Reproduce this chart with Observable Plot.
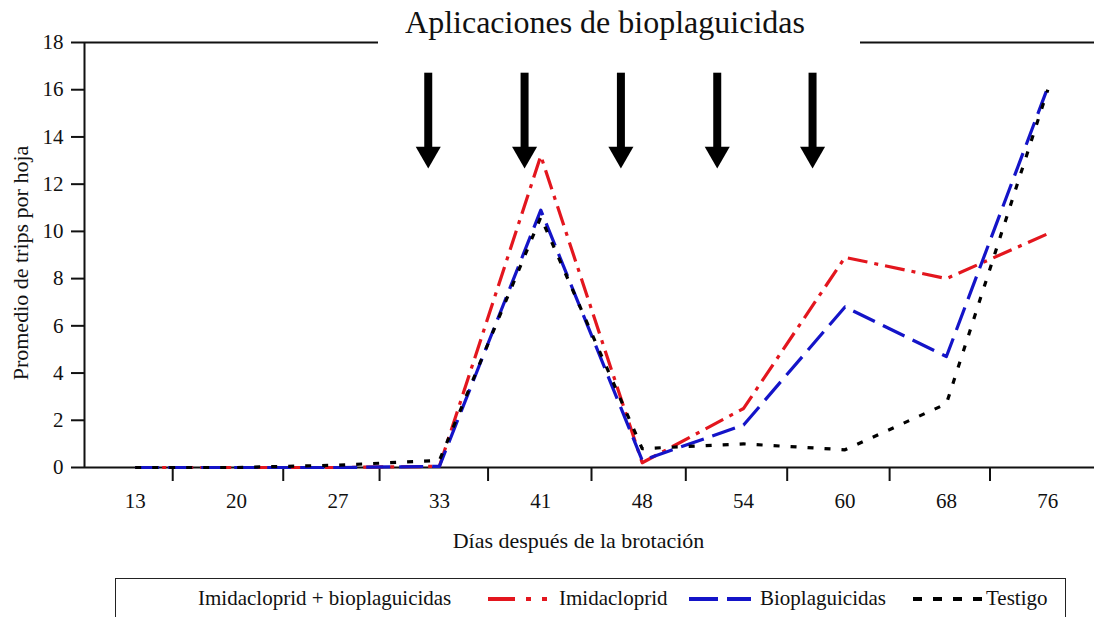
<!DOCTYPE html>
<html><head><meta charset="utf-8">
<script src="https://cdn.jsdelivr.net/npm/d3@7"></script>
<script src="https://cdn.jsdelivr.net/npm/@observablehq/plot@0.6"></script>
<style>
body{margin:0;background:#fff;font-family:'Liberation Serif','Times New Roman',serif;color:#111;}
#wrap{position:relative;width:1094px;height:617px;overflow:hidden;background:#fff;}
#chart{position:absolute;left:0;top:0;}
#title{position:absolute;left:378px;top:0;width:482px;height:50px;background:#fff;text-align:center;font-size:32px;line-height:32px;padding:6px 28px 0 0;box-sizing:border-box;}
#legendBox{position:absolute;left:115px;top:578px;width:951px;height:60px;border:1.5px solid #222;box-sizing:border-box;}
.lg{position:absolute;top:588px;font-size:21px;line-height:21px;white-space:nowrap;}
.sw{position:absolute;top:594px;height:10px;}
</style>
</head><body>
<div id="wrap">
  <div id="chart"></div>
  <div id="title">Aplicaciones de bioplaguicidas</div>
  <div id="legendBox"></div>
  <div id="legend"></div>
</div>
<script>
// ---- data ----
const days = ["13","20","27","33","41","48","54","60","68","76"];
const imidaBio = [0, 0, 0, 0.05, 13.2, 0.2, 2.5, 8.9, 8.0, 9.9];
const bioplag  = [0, 0, 0, 0.05, 10.9, 0.3, 1.8, 6.8, 4.7, 16.1];
const testigo  = [0, 0, 0.1, 0.3, 10.6, 0.8, 1.0, 0.75, 2.7, 16.0];
const yTicks = [0, 2, 4, 6, 8, 10, 12, 14, 16, 18];
const xTickPos = [0.37, 1.46, 2.41, 3.48, 4.5, 5.43, 6.43, 7.44, 8.43];
// application arrows (x in category index units, y in chart units)
const arrowX = [2.89, 3.84, 4.79, 5.74, 6.68];
const arrowTop = 16.7, arrowBase = 13.5, arrowHead = 13.28;

const legendLabels = ["Imidacloprid + bioplaguicidas", "Imidacloprid", "Bioplaguicidas", "Testigo"];

const series = [
  {name: "Imidacloprid + bioplaguicidas", values: imidaBio, color: "#e3161e", dash: "20,7,4,7"},
  {name: "Bioplaguicidas", values: bioplag, color: "#1414c8", dash: "24,9"},
  {name: "Testigo", values: testigo, color: "#000", dash: "6,11"}
];
const rows = s => s.values.map((v, i) => ({i, v}));
const arrows = arrowX.map(x => ({x, top: arrowTop, base: arrowBase, head: arrowHead}));

const serif = "'Liberation Serif','Times New Roman',serif";
const chart = Plot.plot({
  width: 1094, height: 560,
  marginTop: 42, marginBottom: 93, marginLeft: 84, marginRight: 0,
  x: {domain: [-0.5, 9.5], range: [84, 1098]},
  y: {domain: [0, 18], range: [467, 42]},
  style: {fontFamily: serif, fontSize: "21px", color: "#111", background: "transparent"},
  marks: [
    Plot.axisY({ticks: yTicks, tickSize: 13, tickPadding: 8, strokeWidth: 2, label: null}),
    Plot.axisX({ticks: xTickPos, tickSize: 14, tickFormat: () => "", strokeWidth: 2, label: null}),
    Plot.axisX({ticks: d3.range(days.length), tickSize: 0, tickPadding: 26, tickFormat: i => days[i], label: null}),
    Plot.ruleY([18], {stroke: "#111", strokeWidth: 2}),
    Plot.ruleY([0], {stroke: "#111", strokeWidth: 2}),
    Plot.ruleX([-0.5], {stroke: "#111", strokeWidth: 2}),
    Plot.text(["Promedio de trips por hoja"], {frameAnchor: "left", textAnchor: "middle", lineAnchor: "middle", dx: -64, dy: 8, rotate: -90, fontSize: 22, fill: "#111"}),
    Plot.text(["Días después de la brotación"], {frameAnchor: "bottom", textAnchor: "middle", lineAnchor: "middle", dx: -11, dy: 73, fontSize: 22, fill: "#111"}),
    Plot.ruleX(arrows, {x: "x", y1: "base", y2: "top", stroke: "#000", strokeWidth: 8}),
    Plot.dot(arrows, {x: "x", y: "head", symbol: "triangle", r: 9.3, fill: "#000", rotate: 180}),
    ...series.map(s => Plot.line(rows(s), {x: "i", y: "v", stroke: s.color, strokeWidth: 3.2, strokeDasharray: s.dash, strokeLinecap: "butt"}))
  ]
});
document.getElementById("chart").appendChild(chart);

// ---- legend ----
const lg = document.getElementById("legend");
const textLeft = [198, 559, 760, 986];
legendLabels.forEach((t, k) => {
  const s = document.createElement("span");
  s.className = "lg"; s.style.left = textLeft[k] + "px"; s.textContent = t;
  lg.appendChild(s);
});
const swatches = [
  {left: 488, w: 64, color: "#e3161e", dash: "27,11,5,11,5,20"},
  {left: 689, w: 62, color: "#1414c8", dash: "29,9"},
  {left: 913, w: 70, color: "#000", dash: "9,11"}
];
swatches.forEach(sw => {
  const svg = d3.create("svg").attr("class", "sw").attr("width", sw.w).attr("height", 10)
    .style("left", sw.left + "px");
  svg.append("line").attr("x1", 0).attr("x2", sw.w).attr("y1", 5).attr("y2", 5)
    .attr("stroke", sw.color).attr("stroke-width", 4).attr("stroke-dasharray", sw.dash);
  lg.appendChild(svg.node());
});
</script>
</body></html>
